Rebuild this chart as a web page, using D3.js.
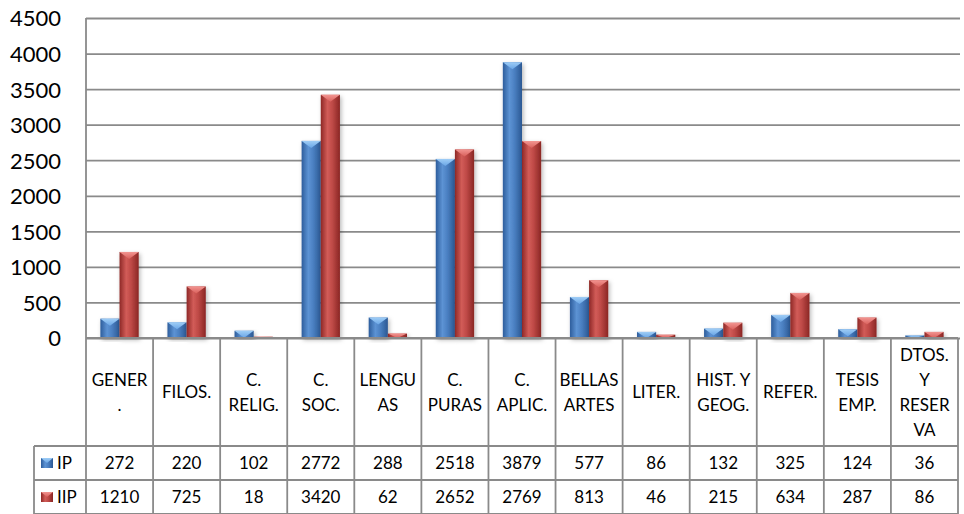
<!DOCTYPE html>
<html><head><meta charset="utf-8">
<script src="https://cdn.jsdelivr.net/npm/d3@7"></script>
<style>body{margin:0;background:#fff}svg{display:block}</style>
</head><body>
<svg id="c" width="964" height="514"></svg>
<script>
const categories = ["GENER.","FILOS.","C. RELIG.","C. SOC.","LENGUAS","C. PURAS","C. APLIC.","BELLAS ARTES","LITER.","HIST. Y GEOG.","REFER.","TESIS EMP.","DTOS. Y RESERVA"];
const categoryLines = [["GENER","."],["FILOS."],["C.","RELIG."],["C.","SOC."],["LENGU","AS"],["C.","PURAS"],["C.","APLIC."],["BELLAS","ARTES"],["LITER."],["HIST. Y","GEOG."],["REFER."],["TESIS","EMP."],["DTOS.","Y","RESER","VA"]];
const seriesNames = ["IP","IIP"];
const ipValues = [272,220,102,2772,288,2518,3879,577,86,132,325,124,36];
const iipValues = [1210,725,18,3420,62,2652,2769,813,46,215,634,287,86];
const yTicks = [0,500,1000,1500,2000,2500,3000,3500,4000,4500];

const seriesValues = [ipValues, iipValues];
const FONT = "Lato, Carlito, Calibri, sans-serif";
const svg = d3.select("#c");
const L = 86, R = 958, T = 18, B = 338;
const x = d3.scaleBand().domain(categories).range([L, R]).paddingInner(0).paddingOuter(0);
const xs = d3.scaleBand().domain(seriesNames).range([0, x.bandwidth()]).paddingInner(0).paddingOuter(0.75);
const y = d3.scaleLinear().domain([0, 4500]).range([B, T]);

const defs = svg.append("defs");
const pal = {
  IP:  {stops:["#2d5d9c","#5d93d4","#4b80c2","#2b5893"], top:["#9fcdf6","#6aa6e6"], key:"#3c6fb0"},
  IIP: {stops:["#8e2826","#d25c58","#bf4a47","#8a2624"], top:["#f29591","#d9605c"], key:"#b03c39"}
};
seriesNames.forEach(s => {
  const g = defs.append("linearGradient").attr("id","g"+s).attr("x1","0").attr("x2","1").attr("y1","0").attr("y2","0");
  [0,0.35,0.6,1].forEach((o,i)=>g.append("stop").attr("offset",o).attr("stop-color",pal[s].stops[i]));
  const t = defs.append("linearGradient").attr("id","t"+s).attr("x1","0").attr("x2","0").attr("y1","0").attr("y2","1");
  t.append("stop").attr("offset",0).attr("stop-color",pal[s].top[0]);
  t.append("stop").attr("offset",1).attr("stop-color",pal[s].top[1]);
});
const f = defs.append("filter").attr("id","sh").attr("x","-50%").attr("y","-20%").attr("width","200%").attr("height","140%");
f.append("feDropShadow").attr("dx",1.5).attr("dy",2).attr("stdDeviation",2).attr("flood-color","#000").attr("flood-opacity",0.28);

// gridlines + y labels
const ax = svg.append("g").attr("transform",`translate(${L},0)`)
  .call(d3.axisLeft(y).tickValues(yTicks).tickSize(-(960 - L)).tickPadding(25).tickFormat(d3.format("d")));
ax.select(".domain").remove();
ax.selectAll(".tick line").attr("stroke","#8a8a8a").attr("stroke-width",1.8);
ax.selectAll(".tick text").attr("font-family",FONT).attr("font-size",22).attr("fill","#000").attr("dy","0.36em");

// bars
const bars = svg.append("g");
categories.forEach((c,i) => {
  seriesNames.forEach((s,j) => {
    const v = seriesValues[j][i];
    const bx = x(c) + xs(s), bw = xs.bandwidth(), by = y(v), bh = y(0) - y(v);
    const g = bars.append("g").attr("filter","url(#sh)");
    g.append("rect").attr("x",bx).attr("y",by).attr("width",bw).attr("height",bh).attr("fill",`url(#g${s})`);
    const d = Math.min(7, bh);
    g.append("path").attr("d",`M${bx},${by}L${bx+bw},${by}L${bx+bw/2},${by+d}Z`).attr("fill",`url(#t${s})`);
  });
});

// axis + table lines
const lc = "#8a8a8a", lw = 1.8;
const tbl = svg.append("g").attr("stroke",lc).attr("stroke-width",lw);
tbl.append("line").attr("x1",L).attr("x2",L).attr("y1",T).attr("y2",514);
tbl.append("line").attr("x1",L).attr("x2",R).attr("y1",B).attr("y2",B);
categories.forEach(c => {
  tbl.append("line").attr("x1",x(c)+x.bandwidth()).attr("x2",x(c)+x.bandwidth()).attr("y1",B).attr("y2",514);
});
const rowY = [446, 480, 514];
tbl.append("line").attr("x1",34).attr("x2",34).attr("y1",446).attr("y2",514);
rowY.forEach(ry => tbl.append("line").attr("x1",34).attr("x2",R).attr("y1",ry).attr("y2",ry));

// category header
const hc = (B + 446) / 2, lh = 25;
categories.forEach((c,i) => {
  const lines = categoryLines[i];
  const t = svg.append("text").attr("font-family",FONT).attr("font-size",17).attr("text-anchor","middle").attr("fill","#000");
  lines.forEach((ln,k) => {
    t.append("tspan").attr("x", x(c) + x.bandwidth()/2)
      .attr("y", hc + (k - (lines.length-1)/2) * lh + 6.2).text(ln);
  });
});

// data rows
seriesNames.forEach((s,j) => {
  const cy = (rowY[j] + rowY[j+1]) / 2;
  const kx = 41, ky = cy - 5;
  svg.append("rect").attr("x",kx).attr("y",ky).attr("width",12).attr("height",10).attr("fill",`url(#g${s})`);
  svg.append("path").attr("d",`M${kx},${ky}L${kx+12},${ky}L${kx+6},${ky+5}Z`).attr("fill",`url(#t${s})`);
  svg.append("text").attr("x",57).attr("y",cy+6.2).attr("font-family",FONT).attr("font-size",17).attr("fill","#000").text(s);
  categories.forEach((c,i) => {
    svg.append("text").attr("x",x(c)+x.bandwidth()/2).attr("y",cy+6.2).attr("text-anchor","middle")
      .attr("font-family",FONT).attr("font-size",17).attr("fill","#000").text(seriesValues[j][i]);
  });
});
</script>
</body></html>
